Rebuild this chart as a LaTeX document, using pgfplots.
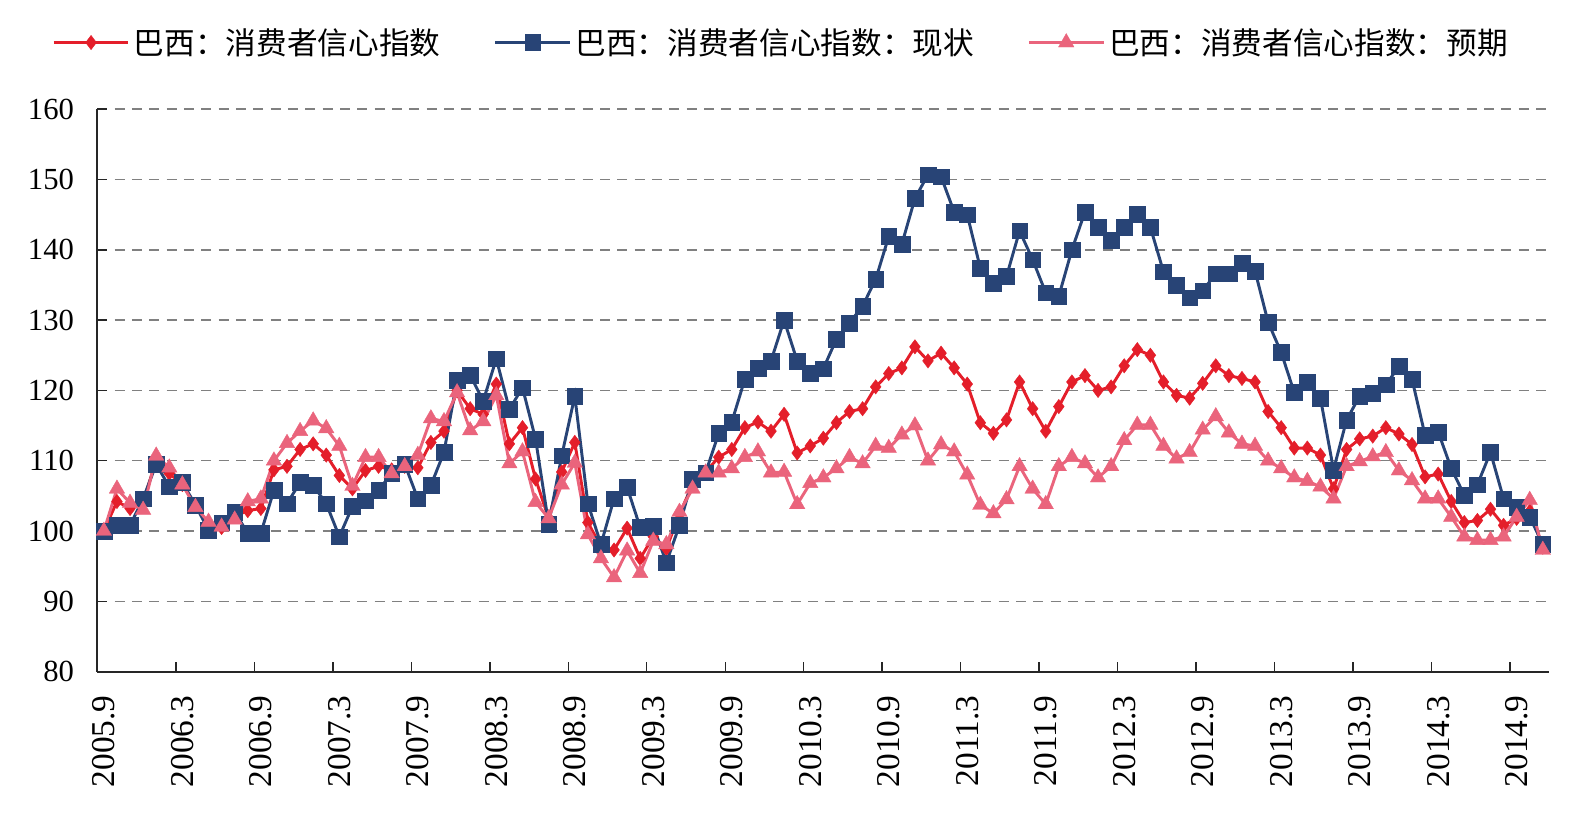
\documentclass[border=0pt]{standalone}
\usepackage{fontspec}
\setmainfont{Liberation Serif}
\newfontfamily\cjk{Noto Sans CJK SC}
\usepackage{pgfplots}
\usepackage{pgfplotstable}
\pgfplotsset{compat=1.18}

\definecolor{cRed}{RGB}{228,30,42}
\definecolor{cBlue}{RGB}{40,68,118}
\definecolor{cPink}{RGB}{234,100,124}
\definecolor{cGrid}{RGB}{128,128,128}

% Brazil consumer confidence, monthly from 2005.9 (k = 0) to 2014.11 (k = 110)
% total = headline index, present = current situation, expect = expectations
\pgfplotstableread{
k total present expect
0 100 100 100
1 104.2 100.8 106
2 103.2 100.8 104
3 104.2 104.6 103
4 110 109.5 110.7
5 108.2 106.3 109
6 106.6 106.9 106.6
7 103.7 103.7 103.4
8 100.8 100.1 101.3
9 100.5 101.2 100.6
10 102.1 102.7 101.6
11 102.9 99.7 104.2
12 103.2 99.7 104.6
13 108.7 105.8 110
14 109.2 103.9 112.5
15 111.6 106.9 114.2
16 112.4 106.5 115.7
17 110.8 103.9 114.6
18 107.9 99.2 112.1
19 106 103.5 106.4
20 108.6 104.3 110.5
21 109.2 105.8 110.5
22 108.7 108.2 108.2
23 109.2 109.5 109.2
24 109 104.6 110.8
25 112.6 106.5 116
26 114.2 111.2 115.6
27 120 121.5 119.7
28 117.4 122.2 114.3
29 116.6 118.5 115.6
30 120.9 124.5 119.3
31 112.4 117.3 109.6
32 114.7 120.4 111.3
33 107.4 113.1 104.1
34 101.8 101 101.8
35 108.4 110.7 106.6
36 112.6 119.2 109.7
37 101.2 103.9 99.5
38 97.8 98.1 96.1
39 97.3 104.6 93.4
40 100.4 106.2 97.2
41 96.1 100.5 94
42 99.2 100.7 98.6
43 97.5 95.5 98.1
44 102.4 100.8 102.7
45 106.6 107.4 106
46 108.4 108.3 108.3
47 110.5 113.9 108.3
48 111.6 115.5 108.9
49 114.7 121.6 110.5
50 115.5 123.2 111.3
51 114.2 124.2 108.3
52 116.6 130 108.4
53 111.1 124.2 103.8
54 112.1 122.4 106.8
55 113.2 123.1 107.6
56 115.4 127.3 108.9
57 117 129.6 110.5
58 117.4 132 109.6
59 120.5 135.8 112.1
60 122.4 141.9 111.8
61 123.2 140.8 113.7
62 126.2 147.3 115
63 124.2 150.7 110
64 125.3 150.4 112.3
65 123.2 145.4 111.3
66 120.9 145 108
67 115.4 137.4 103.7
68 113.9 135.2 102.5
69 115.8 136.2 104.5
70 121.2 142.7 109.2
71 117.4 138.6 106
72 114.2 133.9 103.8
73 117.7 133.4 109.2
74 121.2 140 110.5
75 122.1 145.4 109.6
76 120 143.2 107.6
77 120.5 141.4 109.2
78 123.5 143.2 112.9
79 125.8 145.1 115.1
80 125 143.2 115.1
81 121.2 136.9 112.1
82 119.3 135 110.3
83 118.9 133.2 111.2
84 121 134.2 114.4
85 123.5 136.6 116.3
86 122.1 136.6 114
87 121.7 138.1 112.4
88 121.2 137 112.1
89 117 129.7 110
90 114.7 125.4 108.9
91 111.8 119.7 107.6
92 111.8 121.2 107.1
93 110.8 118.9 106.3
94 106 108.7 104.6
95 111.6 115.8 109.2
96 113.1 119.2 109.9
97 113.5 119.6 110.6
98 114.7 120.8 111.2
99 113.8 123.4 108.6
100 112.3 121.6 107.2
101 107.7 113.6 104.6
102 108.1 114.1 104.6
103 104.2 108.9 102
104 101.2 105.1 99.2
105 101.5 106.6 98.7
106 103.1 111.2 98.7
107 100.8 104.6 99.2
108 101.8 103.4 102
109 102.8 102 104.4
110 97.7 98.1 97.3
}\ccidata

\begin{document}
\begin{tikzpicture}
\useasboundingbox (-73pt,-118pt) rectangle (1116.5pt,503.7pt);
\begin{axis}[
  at={(0pt,0pt)}, anchor=south west,
  scale only axis, width=1089pt, height=421.8pt,
  xmin=-0.5, xmax=110.5, ymin=80, ymax=160,
  axis x line*=bottom, axis y line*=left,
  axis line style={line width=1.4pt, black!85},
  tick align=inside, major tick length=7.5pt,
  tick style={line width=1.1pt, black!85},
  % tick marks sit between months, labels every six months
  xtick={5.5,11.5,...,107.5}, xticklabel=\empty,
  extra x ticks={0,6,...,108},
  extra x tick labels={2005.9,2006.3,2006.9,2007.3,2007.9,2008.3,2008.9,2009.3,2009.9,2010.3,2010.9,2011.3,2011.9,2012.3,2012.9,2013.3,2013.9,2014.3,2014.9},
  extra x tick style={major tick length=0pt, grid=none},
  xticklabel style={yshift=-14.5pt, rotate=90, anchor=east,
    font=\fontsize{25}{29}\selectfont},
  ytick={80,90,...,160},
  yticklabel style={xshift=-14pt, font=\fontsize{23}{27}\selectfont},
  ymajorgrids,
  major grid style={cGrid, line width=1.1pt, dash pattern=on 7.5pt off 5.5pt},
  /pgf/number format/assume math mode=true,
  legend columns=3,
  legend style={at={(0,1)}, anchor=west, xshift=-34pt, yshift=50pt,
    draw=none, fill=none, inner sep=0pt,
    font=\cjk\fontsize{23}{27}\selectfont,
    nodes={inner xsep=3pt, inner ysep=1pt},
    /tikz/every even column/.append style={column sep=37pt}},
  legend image code/.code={%
    \draw[mark repeat=2, mark phase=2, #1] plot coordinates {(0pt,0pt) (28pt,0pt) (56pt,0pt)};},
]
\addplot[cRed, line width=2.2pt, mark=diamond*, mark size=5.4pt,
  mark options={solid, fill=cRed, draw=cRed, line width=0.3pt}]
  table[x=k, y=total] {\ccidata};
\addlegendentry{巴西：消费者信心指数}
\addplot[cBlue, line width=2.2pt, mark=square*, mark size=5.9pt,
  mark options={solid, fill=cBlue, draw=cBlue, line width=0.3pt}]
  table[x=k, y=present] {\ccidata};
\addlegendentry{巴西：消费者信心指数：现状}
\addplot[cPink, line width=2.2pt, mark=triangle*, mark size=6.7pt,
  mark options={solid, fill=cPink, draw=cPink, line width=0.3pt}]
  table[x=k, y=expect] {\ccidata};
\addlegendentry{巴西：消费者信心指数：预期}
\end{axis}
\end{tikzpicture}
\end{document}
